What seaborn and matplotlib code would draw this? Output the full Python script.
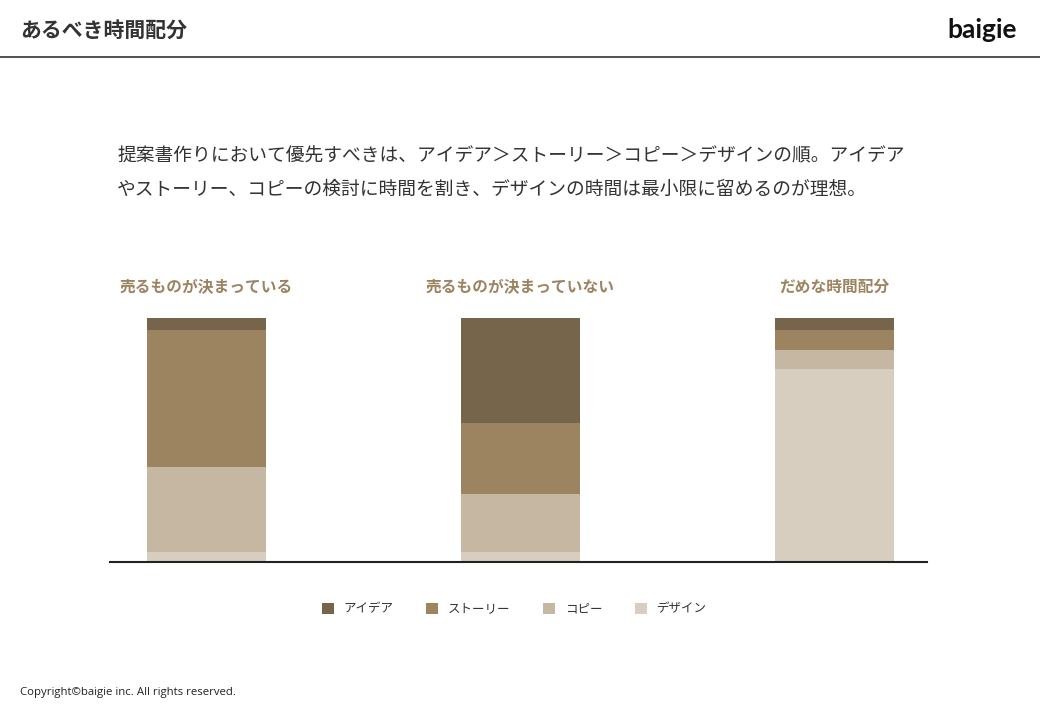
import matplotlib
matplotlib.use("Agg")
import matplotlib.pyplot as plt
from matplotlib.lines import Line2D
import numpy as np
import pandas as pd
import seaborn as sns

# ---- data ----
categories = ["売るものが決まっている", "売るものが決まっていない", "だめな時間配分"]
series_names = ["アイデア", "ストーリー", "コピー", "デザイン"]
idea = [5, 43, 5]
story = [56, 29, 8]
copy_ = [35, 24, 8]
design = [4, 4, 79]
colors = ["#76654a", "#9c8461", "#c5b7a2", "#d8cebf"]

title = "あるべき時間配分"
logo = "baigie"
desc_lines = [
    "提案書作りにおいて優先すべきは、アイデア＞ストーリー＞コピー＞デザインの順。アイデア",
    "やストーリー、コピーの検討に時間を割き、デザインの時間は最小限に留めるのが理想。",
]
copyright_text = "Copyright\u00a9baigie inc. All rights reserved."

sns.set_theme(style="white")
plt.rcParams["font.family"] = ["Noto Sans CJK JP", "DejaVu Sans"]

W, H = 1040, 720
fig = plt.figure(figsize=(W / 100, H / 100), dpi=100)
fig.patch.set_facecolor("white")

def fx(px):
    return px / W

def fy(py):
    return 1 - py / H

# axes: baseline at y=562, top (100) at y=318; x from 110 to 927
ax = fig.add_axes([fx(110), fy(562), fx(927 - 110), (562 - 318) / H])

# stacked bars (drawn as overlapping cumulative totals)
layers = [design, copy_, story, idea]  # bottom -> top
cum = np.cumsum(np.array(layers, dtype=float), axis=0)  # rows: d, d+c, d+c+s, total
draw_order = [(3, 0), (2, 1), (1, 2), (0, 3)]  # (cum row, series index)
for row, si in draw_order:
    df = pd.DataFrame({"cat": categories, "val": cum[row]})
    sns.barplot(data=df, x="cat", y="val", color=colors[si], width=0.38,
                saturation=1, label=series_names[si], ax=ax, linewidth=0,
                order=categories)

handles, labels = ax.get_legend_handles_labels()
if ax.get_legend() is not None:
    ax.get_legend().remove()

ax.set_xlim(-0.307, 2.295)
ax.set_ylim(0, 100)
ax.set_xlabel("")
ax.set_ylabel("")
ax.set_xticks([])
ax.set_yticks([])
for s in ["top", "right", "left"]:
    ax.spines[s].set_visible(False)
ax.spines["bottom"].set_color("#222222")
ax.spines["bottom"].set_linewidth(1.5)

# category labels above bars
for i, c in enumerate(categories):
    ax.text(i, 112.7, c, ha="center", va="center", fontsize=11.3,
            fontweight="bold", color="#9c8461", clip_on=False)

# legend
leg = fig.legend(handles, labels, loc="center", bbox_to_anchor=(fx(514), fy(609)),
                 ncol=4, frameon=False, fontsize=9, handlelength=1.0,
                 handleheight=1.0, handletextpad=0.75, columnspacing=2.6,
                 borderaxespad=0)
for t in leg.get_texts():
    t.set_color("#333333")

# header
fig.text(fx(20), fy(30), title, fontsize=15, color="#333333", ha="left",
         va="center", fontweight="bold")
fig.text(fx(1017), fy(30), logo, fontsize=19, color="#111111", ha="right",
         va="center", fontweight="bold", family=["Lato", "DejaVu Sans"])
fig.add_artist(Line2D([0, 1], [fy(57), fy(57)], transform=fig.transFigure,
                      color="#333333", linewidth=1.2))

# description
for k, line in enumerate(desc_lines):
    fig.text(fx(117), fy(156 + 33 * k), line, fontsize=13.5, color="#333333",
             ha="left", va="center")

# copyright
fig.text(fx(20), fy(692), copyright_text, fontsize=8.2, color="#222222",
         ha="left", va="center", family=["Open Sans", "DejaVu Sans"])

fig.savefig("out.png", dpi=100, facecolor="white")
